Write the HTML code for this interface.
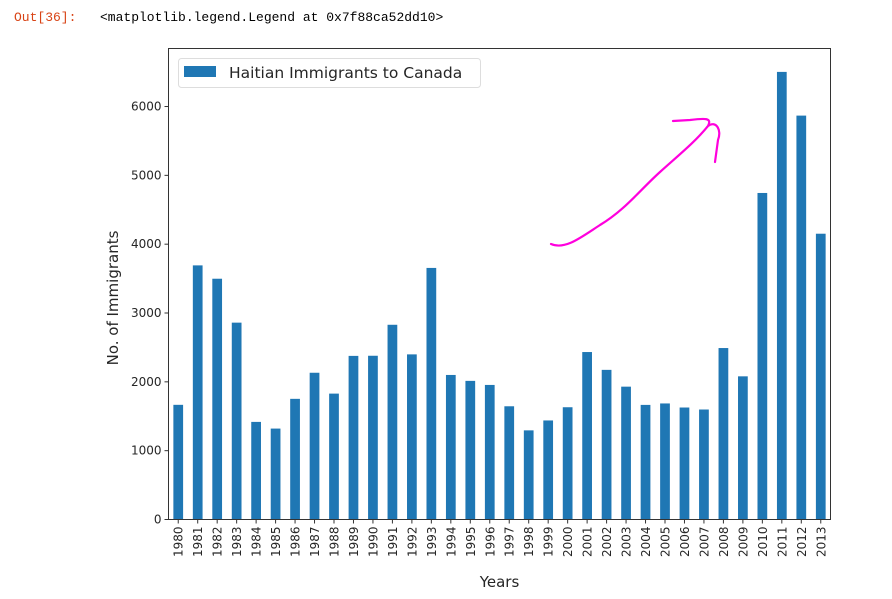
<!DOCTYPE html>
<html><head><meta charset="utf-8"><style>
body{margin:0;background:#fff;width:892px;height:594px;overflow:hidden;font-family:"Liberation Sans","DejaVu Sans",sans-serif}
svg text{font-family:"DejaVu Sans","Liberation Sans",sans-serif}
</style></head><body>
<svg id="c" width="892" height="594">
<text x="14" y="21" font-size="13" fill="#d84315" style="font-family:'Liberation Mono',monospace">Out[36]:</text>
<text x="100" y="21" font-size="13" fill="#000" style="font-family:'Liberation Mono',monospace">&lt;matplotlib.legend.Legend at 0x7f88ca52dd10&gt;</text>
<g id="plot"></g>
<path d="M551 244 C565 250 580 238 600 225 C625 210 640 190 660 172 C680 154 695 142 708 126 C712 118 706 118 690 120 L673 121 M708 126 C716 120 722 130 718 140 L715 162" fill="none" stroke="#ff00dd" stroke-width="2.2" stroke-linecap="round"/>
</svg>
<script>
const categories=[1980,1981,1982,1983,1984,1985,1986,1987,1988,1989,1990,1991,1992,1993,1994,1995,1996,1997,1998,1999,2000,2001,2002,2003,2004,2005,2006,2007,2008,2009,2010,2011,2012,2013];
const values=[1666,3692,3498,2860,1418,1321,1753,2132,1829,2377,2379,2829,2399,3655,2100,2014,1955,1645,1295,1439,1631,2433,2174,1930,1665,1686,1627,1598,2491,2080,4744,6503,5868,4152];
const yTicks=[0,1000,2000,3000,4000,5000,6000];
const NS='http://www.w3.org/2000/svg';
const g=document.getElementById('plot');
const L=168.5,R=830.5,T=48.5,B=519.5;
const y=v=>B-v*0.06883;
const step=(R-L)/categories.length;
const x=i=>L+step*(i+0.5);
function mk(t,a){const e=document.createElementNS(NS,t);for(const k in a)e.setAttribute(k,a[k]);g.appendChild(e);return e;}
values.forEach((v,i)=>{
 const r=mk('rect',{x:x(i)-step*0.25,y:y(v),width:step*0.5,height:B-y(v),fill:'#1f77b4'});
 
 
 mk('line',{x1:x(i),x2:x(i),y1:B,y2:B+4,stroke:'#333'});
 const t=mk('text',{transform:`translate(${x(i)+4.5},${B+7}) rotate(-90)`,'text-anchor':'end','font-size':'12',fill:'#262626'});
 t.textContent=categories[i];
 
 
});
yTicks.forEach(v=>{
 mk('line',{x1:L-4,x2:L,y1:y(v),y2:y(v),stroke:'#333'});
 const t=mk('text',{x:L-7,y:y(v)+4,'text-anchor':'end','font-size':'12',fill:'#262626'});
 t.textContent=v;
 
 
});
const fr=mk('rect',{x:L,y:T,width:R-L,height:B-T,fill:'none',stroke:'#333','stroke-width':1});


const lg=mk('rect',{x:178.5,y:58.5,width:302,height:29,rx:3,fill:'#fff',stroke:'#ddd'});


mk('rect',{x:184,y:66,width:32,height:11,fill:'#1f77b4'});
const lt=mk('text',{x:229,y:78,'font-size':'15.5',fill:'#262626'});
lt.textContent='Haitian Immigrants to Canada';


const xt=mk('text',{x:(L+R)/2,y:587,'text-anchor':'middle','font-size':'15',fill:'#262626'});
xt.textContent='Years';


const yt=mk('text',{transform:`translate(118,${(T+B)/2+14}) rotate(-90)`,'text-anchor':'middle','font-size':'15',fill:'#262626'});
yt.textContent='No. of Immigrants';


</script>
</body></html>
